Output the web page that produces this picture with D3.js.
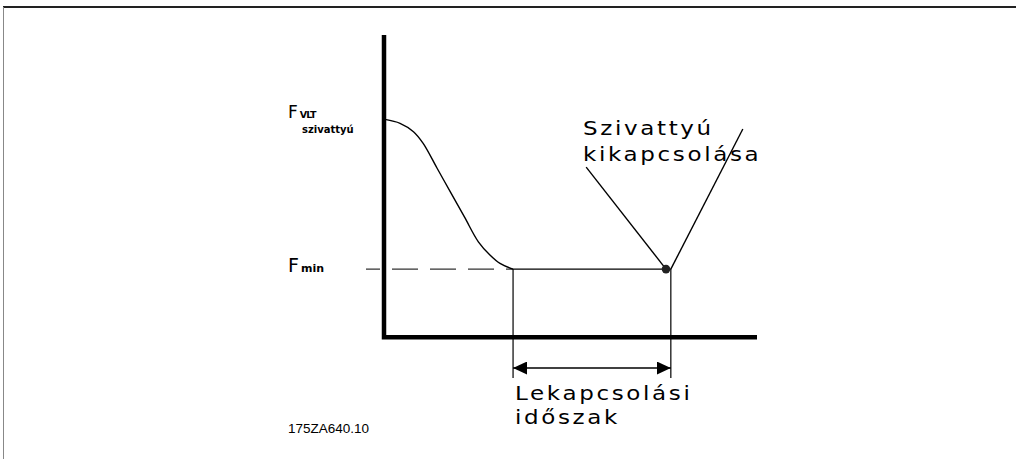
<!DOCTYPE html>
<html><head><meta charset="utf-8">
<script src="https://cdn.jsdelivr.net/npm/d3@7"></script>
<style>
html,body{margin:0;padding:0;background:#fff;}
svg{display:block;}
text{font-family:"DejaVu Sans",sans-serif;fill:#000;}
</style></head>
<body>
<script>
// ---- data (time 0..100, frequency 0..100, abstract units) ----
const rampTime = [0.27, 4.3, 7.9, 10.5, 14.2, 17.9, 21.6, 25.3, 28.4, 31.1, 34.6];
const rampFreq = [72.2, 70.9, 68.1, 64.2, 56.0, 47.8, 39.6, 31.4, 27.0, 24.2, 22.3];
const fVlt = 72.2;
const fMin = 22.3;
const sleepStart = 34.6;   // pump stops
const sleepEnd = 76.9;     // end of sleep period
const stopPoint = [75.6, fMin];
const restartTime = [76.9, 96.2];
const restartFreq = [fMin, 69.0];
const leaderStart = [54.2, 56.3];
const labelsY = ["F", "F"];
const subVlt = "VLT", subPump = "szivattyú", subMin = "min";
const pumpLabel = ["Szivattyú", "kikapcsolása"];
const sleepLabel = ["Lekapcsolási", "időszak"];
const code = "175ZA640.10";

const W = 1016, H = 459;
const svg = d3.select("body").append("svg").attr("width", W).attr("height", H);

const x = d3.scaleLinear().domain([0, 100]).range([384, 757]);
const y = d3.scaleLinear().domain([0, 100]).range([336, 36]);

// frame
svg.append("line").attr("x1", 3).attr("x2", W).attr("y1", 7).attr("y2", 7)
  .attr("stroke", "#222").attr("stroke-width", 2);
svg.append("line").attr("x1", 3.5).attr("x2", 3.5).attr("y1", 7).attr("y2", H)
  .attr("stroke", "#888").attr("stroke-width", 1);

// arrow markers
const defs = svg.append("defs");
defs.append("marker").attr("id", "ah").attr("viewBox", "0 0 14 13")
  .attr("refX", 14).attr("refY", 6.5).attr("markerWidth", 14).attr("markerHeight", 13)
  .attr("markerUnits", "userSpaceOnUse").attr("orient", "auto-start-reverse")
  .append("path").attr("d", "M0,0L14,6.5L0,13Z").attr("fill", "#000");

const line = d3.line().x(d => x(d[0])).y(d => y(d[1]));

// dashed F_min reference line
svg.append("line").attr("x1", x(0) - 18).attr("x2", x(sleepStart))
  .attr("y1", y(fMin)).attr("y2", y(fMin))
  .attr("stroke", "#333").attr("stroke-width", 1.3)
  .attr("stroke-dasharray", "26,12").attr("stroke-dashoffset", 12);

// axes (domain lines)
svg.append("path")
  .attr("d", line([[0, 100.3], [0, -0.4], [100, -0.4]]))
  .attr("fill", "none").attr("stroke", "#000").attr("stroke-width", 4.5)
  .attr("stroke-linejoin", "miter");

// ramp-down curve
const rampPts = rampTime.map((t, i) => [t, rampFreq[i]]);
svg.append("path").datum(rampPts)
  .attr("d", d3.line().x(d => x(d[0])).y(d => y(d[1])).curve(d3.curveCatmullRom.alpha(0.5)))
  .attr("fill", "none").attr("stroke", "#000").attr("stroke-width", 1.4);

// flat at F_min
svg.append("path").attr("d", line([[sleepStart, fMin], [sleepEnd, fMin]]))
  .attr("fill", "none").attr("stroke", "#000").attr("stroke-width", 1.4);

// restart line
svg.append("path").attr("d", line(restartTime.map((t, i) => [t, restartFreq[i]])))
  .attr("fill", "none").attr("stroke", "#000").attr("stroke-width", 1.4);

// leader line to stop point
svg.append("path").attr("d", line([leaderStart, stopPoint]))
  .attr("fill", "none").attr("stroke", "#000").attr("stroke-width", 1.4);

// stop point dot
svg.append("circle").attr("cx", x(stopPoint[0])).attr("cy", y(stopPoint[1])).attr("r", 4.3)
  .attr("fill", "#222");

// vertical extension lines
[sleepStart, sleepEnd].forEach(t => {
  svg.append("line").attr("x1", x(t)).attr("x2", x(t))
    .attr("y1", y(fMin)).attr("y2", 378)
    .attr("stroke", "#000").attr("stroke-width", 1.2);
});

// dimension arrow
svg.append("line").attr("x1", x(sleepStart)).attr("x2", x(sleepEnd))
  .attr("y1", 368).attr("y2", 368)
  .attr("stroke", "#000").attr("stroke-width", 1.3)
  .attr("marker-start", "url(#ah)").attr("marker-end", "url(#ah)");

// y labels
const t1 = svg.append("text").attr("x", 288).attr("y", y(fVlt) - 1);
t1.append("tspan").attr("font-size", 17).text(labelsY[0]);
t1.append("tspan").attr("font-size", 9.5).attr("font-weight", "bold").attr("letter-spacing", -0.8).attr("dx", 2).text(subVlt);
svg.append("text").attr("x", 302).attr("y", y(fVlt) + 14).attr("font-size", 10).attr("font-weight", "bold").text(subPump);

const t2 = svg.append("text").attr("x", 288).attr("y", y(fMin) + 3);
t2.append("tspan").attr("font-size", 19).text(labelsY[1]);
t2.append("tspan").attr("font-size", 11).attr("font-weight", "bold").attr("dx", 2).text(subMin);

// annotation labels (wide geometric lettering)
function wideLabel(lines, x0, y0, dy) {
  lines.forEach((d, i) => {
    svg.append("g").attr("transform", `translate(${x0},${y0 + i * dy}) scale(1.15,1)`)
      .append("text").attr("x", 0).attr("y", 0)
      .attr("font-size", 20).attr("letter-spacing", 2.3).text(d);
  });
}
wideLabel(pumpLabel, 583, 135, 26);
wideLabel(sleepLabel, 515, 400, 24);

svg.append("text").attr("x", 288).attr("y", 433)
  .style("font-family", "'Liberation Sans', Arial, sans-serif")
  .attr("font-size", 13.5).text(code);
</script>
</body></html>
